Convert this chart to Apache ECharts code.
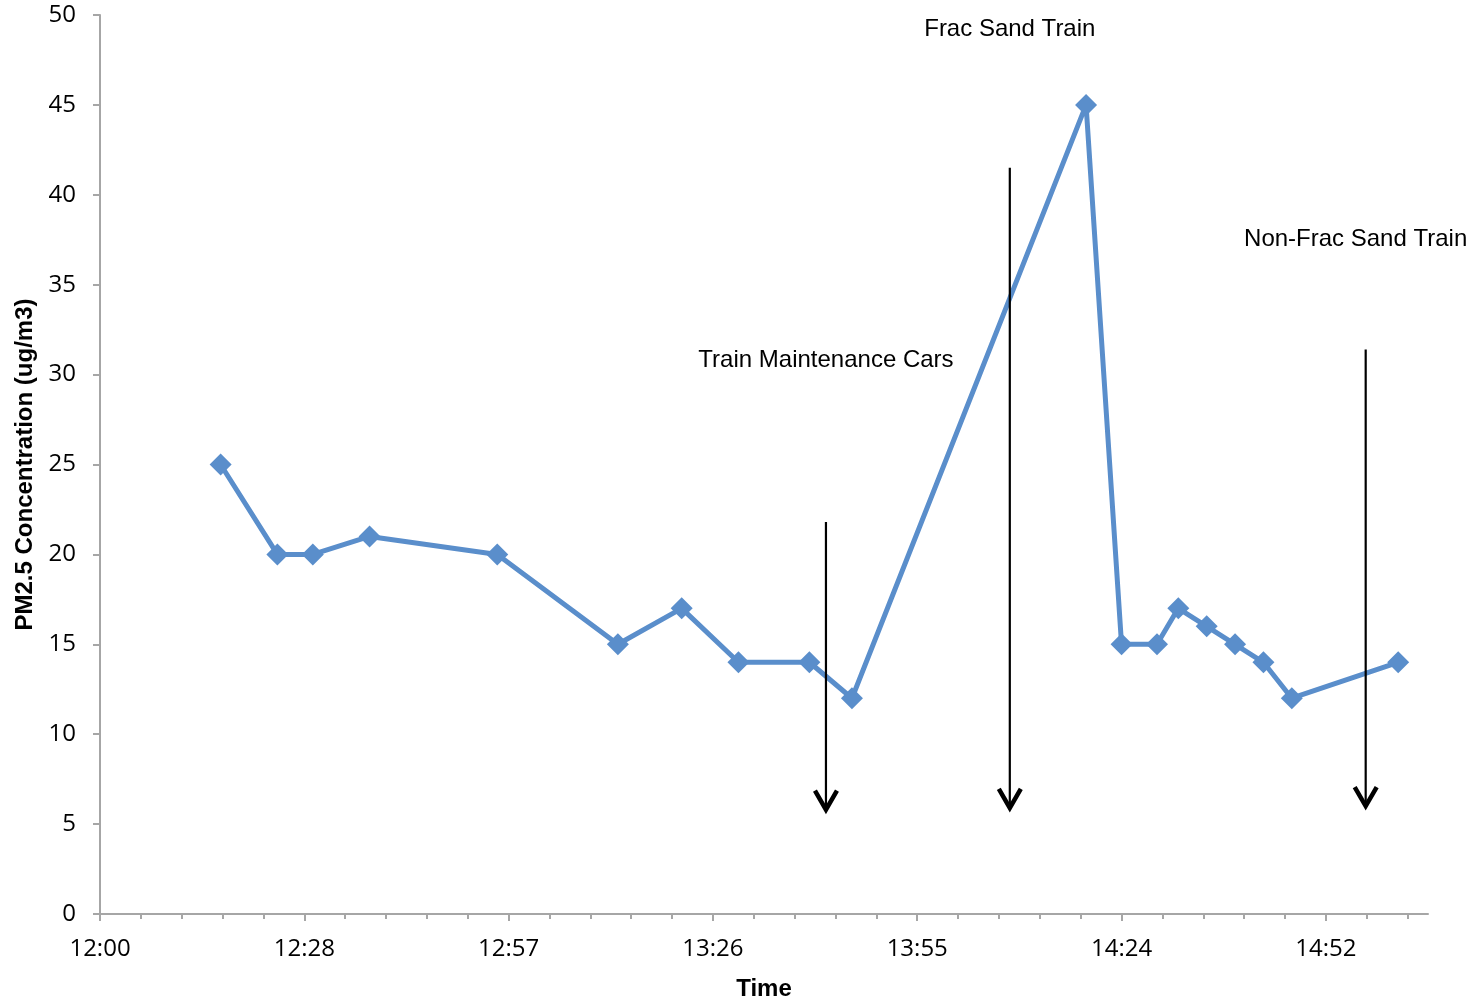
<!DOCTYPE html>
<html>
<head>
<meta charset="utf-8">
<style>
  html, body { margin: 0; padding: 0; background: #fff; }
  #chart { width: 1476px; height: 1000px; }
</style>
<script src="https://cdn.jsdelivr.net/npm/echarts@6/dist/echarts.min.js"></script>
</head>
<body>
<div id="chart"></div>
<script>
// Sample times (clock time) and PM2.5 readings
const sampleTimes = ['12:17', '12:25', '12:30', '12:38', '12:56', '13:13', '13:22', '13:30', '13:40', '13:46',
                     '14:19', '14:24', '14:29', '14:32', '14:36', '14:40', '14:44', '14:48', '15:03'];
const pm25Values  = [25, 20, 20, 21, 20, 15, 17, 14, 14, 12,
                     45, 15, 15, 17, 16, 15, 14, 12, 14];

// Time axis (fraction of a day) and tick values
const timeMin = 0.50;
const timeMax = 0.63;
const majorTicks = [0.50, 0.52, 0.54, 0.56, 0.58, 0.60, 0.62];

// Train passage annotations
const eventNames  = ['Train Maintenance Cars', 'Frac Sand Train', 'Non-Frac Sand Train'];
const eventTimes  = ['13:42:20', '14:08:15', '14:58:25'];
const arrowTops   = [21.8, 41.5, 31.4];
const arrowTips   = [5.8, 5.9, 6.0];
const labelTimes  = ['13:42:20', '14:08:15', '14:57:00'];
const labelValues = [30.8, 49.2, 37.5];

function toDay(hms) {
  const [h, m, s] = hms.split(':').map(Number);
  return (h * 3600 + m * 60 + (s || 0)) / 86400;
}
function fmtTime(v) {
  const mins = Math.floor(Math.round(v * 1440 * 1000) / 1000);
  const h = Math.floor(mins / 60), m = mins % 60;
  return h + ':' + (m < 10 ? '0' : '') + m;
}

const minorTicks = [];
for (let i = 1; i <= 32; i++) {
  if (i % 5 !== 0) minorTicks.push(+(timeMin + i * 0.004).toFixed(4));
}

const axisGray = '#a6a6a6';
const lineBlue = '#5a8ecb';
const tickFont = '"Open Sans", "DejaVu Sans", sans-serif';
const noteFont = '"Liberation Sans", Arial, sans-serif';

const chart = echarts.init(document.getElementById('chart'));
chart.setOption({
  animation: false,
  backgroundColor: '#fff',
  grid: { left: 100, right: 48, top: 15, bottom: 86, outerBoundsMode: 'none' },
  xAxis: [{
    type: 'value',
    min: timeMin,
    max: timeMax,
    name: 'Time',
    nameLocation: 'middle',
    nameGap: 63,
    nameTextStyle: { fontFamily: noteFont, fontWeight: 'bold', fontSize: 24, color: '#000' },
    splitLine: { show: false },
    axisLine: { show: true, lineStyle: { color: axisGray, width: 2 } },
    axisTick: { show: true, customValues: majorTicks, length: 7, lineStyle: { color: axisGray, width: 2 } },
    axisLabel: {
      customValues: majorTicks,
      formatter: fmtTime,
      margin: 23,
      fontFamily: tickFont,
      fontSize: 24,
      color: '#000'
    }
  }, {
    type: 'value',
    min: timeMin,
    max: timeMax,
    position: 'bottom',
    splitLine: { show: false },
    axisLine: { show: false },
    axisTick: { show: true, customValues: minorTicks, length: 5, lineStyle: { color: axisGray, width: 2 } },
    axisLabel: { show: false }
  }],
  yAxis: {
    type: 'value',
    min: 0,
    max: 50,
    interval: 5,
    name: 'PM2.5 Concentration (ug/m3)',
    nameLocation: 'middle',
    nameGap: 60,
    nameTextStyle: { fontFamily: noteFont, fontWeight: 'bold', fontSize: 24, color: '#000' },
    splitLine: { show: false },
    axisLine: { show: true, lineStyle: { color: axisGray, width: 2 } },
    axisTick: { show: true, length: 7, lineStyle: { color: axisGray, width: 2 } },
    axisLabel: { margin: 24, fontFamily: tickFont, fontSize: 24, color: '#000' }
  },
  series: [{
    type: 'line',
    data: sampleTimes.map((t, i) => [toDay(t), pm25Values[i]]),
    symbol: 'diamond',
    symbolSize: 22,
    lineStyle: { color: lineBlue, width: 5 },
    itemStyle: { color: lineBlue },
    z: 3
  }, {
    type: 'custom',
    clip: false,
    data: eventTimes.map((t, i) => [toDay(t), arrowTops[i], arrowTips[i], toDay(labelTimes[i]), labelValues[i]]),
    renderItem: function (params, api) {
      const i = params.dataIndex;
      const top = api.coord([api.value(0), api.value(1)]);
      const tip = api.coord([api.value(0), api.value(2)]);
      const lab = api.coord([api.value(3), api.value(4)]);
      return {
        type: 'group',
        children: [{
          type: 'line',
          shape: { x1: top[0], y1: top[1], x2: tip[0], y2: tip[1] - 2 },
          style: { stroke: '#000', lineWidth: 2.2 }
        }, {
          type: 'polyline',
          shape: { points: [[tip[0] - 11, tip[1] - 19], [tip[0], tip[1]], [tip[0] + 11, tip[1] - 19]] },
          style: { stroke: '#000', lineWidth: 4.5, fill: null }
        }, {
          type: 'text',
          x: lab[0],
          y: lab[1],
          style: {
            text: eventNames[i],
            fill: '#000',
            font: '24px ' + noteFont,
            align: 'center',
            verticalAlign: 'middle'
          }
        }]
      };
    },
    z: 4
  }]
});
</script>
</body>
</html>
